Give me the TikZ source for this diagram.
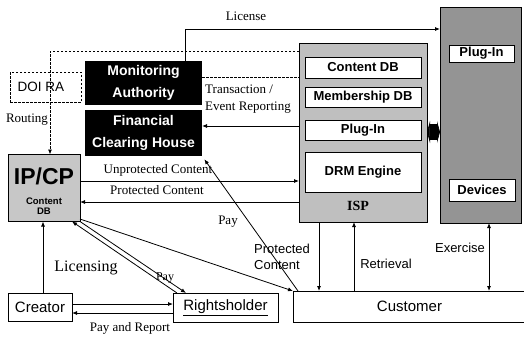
\documentclass[tikz,border=0pt]{standalone}
\usepackage{fontspec}
\setmainfont{Liberation Serif}
\setsansfont{Liberation Sans}
\usetikzlibrary{arrows.meta}
\newcommand\fs[1]{\fontsize{#1}{#1}\selectfont}
\begin{document}
\begin{tikzpicture}[x=1pt,y=-1pt,>={Latex[length=5pt,width=4pt]}]
\tikzset{
  bx/.style={draw=black, line width=0.9pt, inner sep=0pt, outer sep=0pt},
  inbx/.style={bx, fill=white, minimum width=116, font=\sffamily\bfseries\fs{13}},
  blk/.style={fill=black, text=white, inner sep=0pt, outer sep=0pt, align=center, font=\sffamily\bfseries\fs{14}, minimum width=117},
  lbl/.style={inner sep=0pt, font=\rmfamily\fs{13}},
  slbl/.style={inner sep=0pt, font=\sffamily\fs{13}},
  con/.style={line width=0.8pt, ->},
  dsh/.style={line width=0.8pt, dash pattern=on 2.5pt off 1.5pt},
}
\useasboundingbox (0,0) rectangle (524,343);
\fill[white] (0,0) rectangle (524,343);

% boxes
\node[blk, minimum height=44] (monitor) at (143.5,83) {Monitoring\\[8pt]Authority};
\node[blk, minimum height=46] (fch) at (143.5,133) {Financial\\[8pt]Clearing House};
\node[draw, dsh, minimum width=71, minimum height=30, inner sep=0pt, outer sep=0pt] (doira) at (45.5,87) {};
\node[inner sep=0pt, font=\sffamily\fs{13.5}] (doiratxt) at (41,87) {DOI RA};

\node[bx, fill=black!22, minimum width=72, minimum height=67] (ipcp) at (44,188) {};
\node[inner sep=0pt, font=\sffamily\bfseries\fs{23}] (ipcpt) at (44,176) {IP/CP};
\node[inner sep=0pt, font=\sffamily\bfseries\fs{9.5}] (ipcpc) at (44,201) {Content};
\node[inner sep=0pt, font=\sffamily\bfseries\fs{9.5}] (ipcpd) at (44,211) {DB};

\node[bx, fill=black!25, minimum width=128, minimum height=179] (isp) at (363,132.5) {};
\node[inbx, minimum height=21] (contentdb) at (363,67.5) {Content DB};
\node[inbx, minimum height=20] (memberdb) at (363,97) {Membership DB};
\node[inbx, minimum height=20] (plugisp) at (363,130) {Plug-In};
\node[inbx, minimum height=40] (drm) at (363,172) {DRM Engine};
\node[inner sep=0pt, font=\rmfamily\bfseries\fs{14}] (isplbl) at (358,206) {ISP};

\node[bx, fill=black!42, minimum width=81, minimum height=216] (devbox) at (480.5,115) {};
\node[bx, fill=white, minimum width=65, minimum height=17, font=\sffamily\bfseries\fs{13}] (plugdev) at (481.5,53.5) {Plug-In};
\node[bx, fill=white, minimum width=66, minimum height=22, font=\sffamily\bfseries\fs{13}] (devices) at (482,190) {Devices};

\node[bx, minimum width=64, minimum height=28, font=\sffamily\fs{15}] (creator) at (40,307) {Creator};
\node[bx, minimum width=105, minimum height=29, font=\sffamily\fs{15}] (rights) at (225.5,307.5) {\underline{Rightsholder}};
\node[bx, minimum width=233, minimum height=31, font=\sffamily\fs{15}] (customer) at (409.5,306.5) {Customer};

% labels
\node[lbl] (llicense) at (246,16) {License};
\node[lbl, align=left, anchor=west, font=\rmfamily\fs{13}] (ltrans) at (205,99.5) {Transaction /\\[4pt]Event Reporting};
\node[lbl] (lrouting) at (27,120) {Routing};
\node[lbl] (lunprot) at (158,170) {Unprotected Content};
\node[lbl] (lprot) at (157,190) {Protected Content};
\node[lbl] (lpay1) at (228,222) {Pay};
\node[lbl, font=\rmfamily\fs{16}] (llicensing) at (86,268) {Licensing};
\node[lbl, font=\rmfamily\fs{12}] (lpay2) at (165,278) {Pay};
\node[lbl] (lpayrep) at (130,328) {Pay and Report};
\node[slbl, align=left, anchor=west] (lprotc) at (254,257) {Protected\\[3pt]Content};
\node[slbl] (lretr) at (386,264) {Retrieval};
\node[slbl] (lexer) at (460,248) {Exercise};

% connectors
\draw[con] (monitor.north -| 185,0) |- (devbox.west |- 0,29);
\draw[dsh, ->] (isp.west |- 0,51) -| (ipcp.north -| 50,0);
\draw[dsh] (monitor.east |- 0,77) -- (isp.west |- 0,77);
\draw[con] (isp.west |- 0,126) -- (fch.east |- 0,126);
\draw[con] (ipcp.east |- 0,181) -- (isp.west |- 0,181);
\draw[con] (isp.west |- 0,202) -- (ipcp.east |- 0,202);
\draw[con, shorten >=4pt] (customer.north -| 298,0) -- (fch.south east);
\draw[con] (ipcp.east |- 0,219) -- (customer.north west);
\draw[con] (isp.south -| 319,0) -- (customer.north -| 319,0);
\draw[con] (customer.north -| 354,0) -- (isp.south -| 354,0);
\draw[con, <->] (devbox.south -| 489,0) -- (customer.north -| 489,0);
\draw[line width=16pt, {Triangle[length=3pt,width=22pt]}-{Triangle[length=3pt,width=22pt]}] (isp.east |- 0,132) -- (devbox.west |- 0,132);
\draw[con] (ipcp.south east) -- (rights.north -| 186,0);
\draw[con] (rights.north -| 177,0) -- (ipcp.south -| 72,0);
\draw[con] (creator.north -| 43,0) -- (ipcp.south -| 43,0);
\draw[con] (creator.east |- 0,304) -- (rights.west |- 0,304);
\draw[con] (rights.west |- 0,313) -- (creator.east |- 0,313);
\end{tikzpicture}
\end{document}
